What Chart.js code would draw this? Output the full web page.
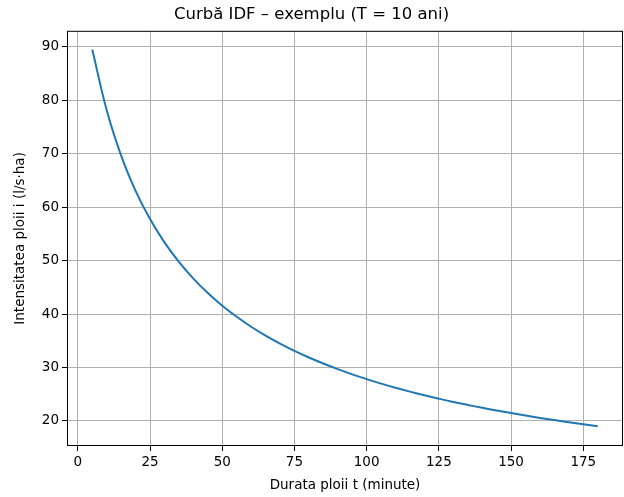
<!DOCTYPE html>
<html>
<head>
<meta charset="utf-8">
<script src="https://cdn.jsdelivr.net/npm/chart.js@4.4.1/dist/chart.umd.min.js"></script>
<style>
  html, body { margin: 0; padding: 0; background: #fff; }
  #wrap { width: 624px; height: 497px; }
</style>
</head>
<body>
<div id="wrap"><canvas id="idfChart" width="624" height="497"></canvas></div>
<script>
// Durata ploii t (minute)
const durations = [5, 10, 15, 20, 25, 30, 35, 40, 45, 50, 55, 60, 65, 70, 75, 80, 85, 90,
  95, 100, 105, 110, 115, 120, 125, 130, 135, 140, 145, 150, 155, 160, 165, 170, 175, 180];
// Intensitatea ploii i (l/s·ha)
const intensities = [89.50, 78.14, 69.65, 63.05, 57.76, 53.40, 49.74, 46.62, 43.92, 41.56,
  39.48, 37.62, 35.96, 34.47, 33.10, 31.86, 30.73, 29.68, 28.71, 27.82, 26.98, 26.20,
  25.48, 24.80, 24.16, 23.55, 22.99, 22.45, 21.94, 21.46, 21.00, 20.56, 20.15, 19.75,
  19.37, 19.01];
const xTicks = [0, 25, 50, 75, 100, 125, 150, 175];
const yTicks = [20, 30, 40, 50, 60, 70, 80, 90];

const FONT = "'DejaVu Sans', sans-serif";

// draw the full box round the plot like matplotlib
const frameBox = {
    id: 'frameBox',
    afterDraw(chart) {
        const a = chart.chartArea;
        const c = chart.ctx;
        c.save();
        c.strokeStyle = 'black';
        c.lineWidth = 1;
        c.strokeRect(a.left + 0.5, a.top + 0.5, a.right - a.left - 1, a.bottom - a.top - 1);
        c.restore();
    }
};

const ctx = document.getElementById('idfChart').getContext('2d');
new Chart(ctx, {
    type: 'line',
    data: {
        datasets: [{
            data: durations.map((t, i) => ({ x: t, y: intensities[i] })),
            borderColor: '#1f77b4',
            borderWidth: 2,
            pointRadius: 0,
            fill: false,
            tension: 0.4
        }]
    },
    options: {
        responsive: false,
        animation: false,
        layout: { padding: { left: 0, right: 1, top: 0, bottom: 0 } },
        plugins: {
            legend: { display: false },
            tooltip: { enabled: false },
            title: {
                display: true,
                text: 'Curbă IDF – exemplu (T = 10 ani)',
                color: 'black',
                font: { family: FONT, size: 16.5, weight: 'normal', lineHeight: 1.2 },
                padding: { top: 5, bottom: 6 }
            }
        },
        scales: {
            x: {
                type: 'linear',
                min: -3.75,
                max: 188.75,
                afterBuildTicks: (scale) => { scale.ticks = xTicks.map(v => ({ value: v })); },
                afterFit: (scale) => { scale.height = 51; },
                grid: { color: '#b0b0b0', lineWidth: 1, tickColor: 'black', tickLength: 5 },
                border: { display: false },
                ticks: { color: 'black', font: { family: FONT, size: 13.5 }, padding: 3, maxRotation: 0 },
                title: {
                    display: true,
                    text: 'Durata ploii t (minute)',
                    color: 'black',
                    font: { family: FONT, size: 13.5 },
                    padding: { top: 2, bottom: 3 }
                }
            },
            y: {
                type: 'linear',
                min: 15.3,
                max: 93,
                afterBuildTicks: (scale) => { scale.ticks = yTicks.map(v => ({ value: v })); },
                afterFit: (scale) => { scale.width = 67; },
                grid: { color: '#b0b0b0', lineWidth: 1, tickColor: 'black', tickLength: 5 },
                border: { display: false },
                ticks: { color: 'black', font: { family: FONT, size: 13.5 }, padding: 3 },
                title: {
                    display: true,
                    text: 'Intensitatea ploii i (l/s·ha)',
                    color: 'black',
                    font: { family: FONT, size: 13.5 },
                    padding: { top: 12, bottom: 2 }
                }
            }
        }
    },
    plugins: [frameBox]
});
</script>
</body>
</html>
